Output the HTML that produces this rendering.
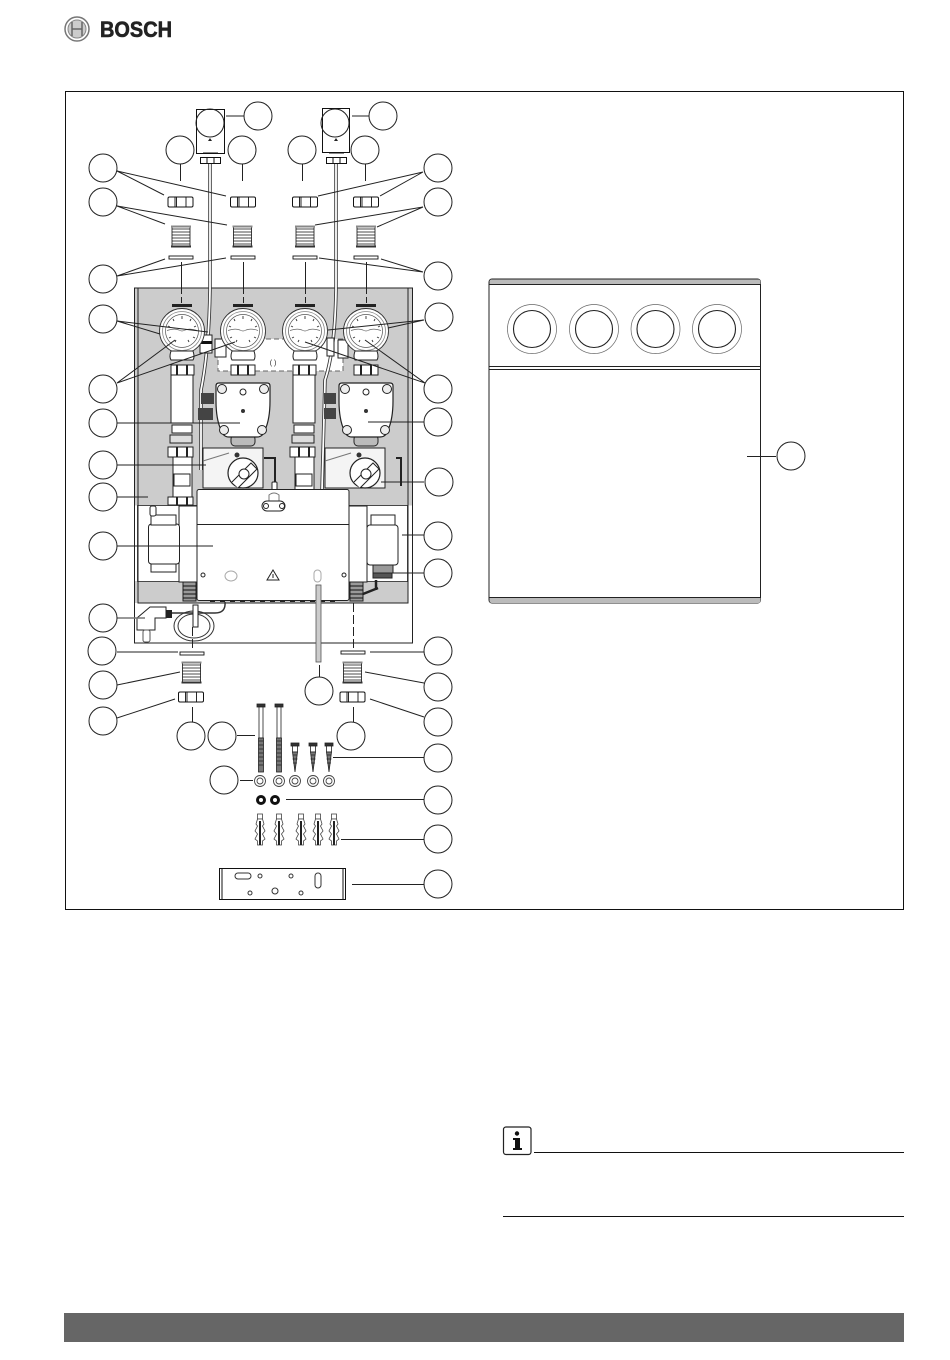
<!DOCTYPE html>
<html><head><meta charset="utf-8"><title>Bosch diagram</title>
<style>html,body{margin:0;padding:0;background:#fff}svg{display:block}</style></head>
<body>
<svg xmlns="http://www.w3.org/2000/svg" width="950" height="1360" viewBox="0 0 950 1360">
<defs>
<g id="nut"><rect x="0" y="0" width="25" height="10" rx="1.5" fill="#fff" stroke="#111" stroke-width="1"/><path d="M7 0V10M18 0V10M8.5 0V10" stroke="#111" stroke-width=".9" fill="none"/></g>
<g id="fit" fill="none" stroke="#111"><rect x="0" y="0" width="18" height="21" fill="#fff" stroke-width=".8"/><path d="M0 3H18M0 6H18M0 9H18M0 12H18M0 15H18M0 18H18" stroke-width=".8"/><rect x="-1" y="-.5" width="20" height="2" fill="#888" stroke="none"/><rect x="-1" y="19.5" width="20" height="2" fill="#333" stroke="none"/></g>
<g id="gauge"><rect x="-10" y="-27" width="20" height="3" fill="#222"/><circle r="22.500" fill="#fff" stroke="#333" stroke-width=".9"/><circle r="19.500" fill="#fff" stroke="#888" stroke-width=".8"/><circle r="16.500" fill="#fff" stroke="#555" stroke-width=".7"/><path d="M-15 -.5Q-8 -3 -3 -1Q0 1 3 -1Q8 -3 15 -.5" fill="none" stroke="#666" stroke-width=".7"/><path d="M0 -15V-12M-9 -12L-8 -10M9 -12L8 -10M-14 -5L-12 -4M14 -5L12 -4M-13 7L-11 6M13 7L11 6M-7 11L-6 9M7 11L6 9" stroke="#333" stroke-width=".9"/><path d="M-11 20Q-13 26 -11 29H11Q13 26 11 20Z" fill="#fff" stroke="#222"/></g>
<g id="tubecol" fill="#fff" stroke="#222" stroke-width="1"><rect x="-11" y="34" width="23" height="10"/><path d="M-5 34V44M5 34V44" stroke-width="2"/><rect x="-11" y="44" width="22" height="48"/><rect x="-10" y="94" width="20" height="8"/><rect x="-12" y="104" width="22" height="8" fill="#ddd"/><rect x="-14" y="116" width="25" height="10"/><path d="M-5 116V126M5 116V126" stroke-width="2"/><rect x="-9" y="126" width="19" height="40"/><rect x="-8" y="143" width="16" height="12"/><rect x="-14" y="166" width="25" height="8"/><path d="M-5 166V174M5 166V174" stroke-width="2"/></g>
<g id="pump"><rect x="-12" y="24" width="24" height="11" rx="4" fill="#bbb" stroke="#222"/><path d="M-24 -28H24Q27 -28 27 -25V-10Q27 8 22 19Q20 26 14 26H-14Q-20 26 -22 19Q-27 8 -27 -10V-25Q-27 -28 -24 -28Z" fill="#fff" stroke="#222" stroke-width="1.200"/><circle cx="-21" cy="-22" r="4.500" fill="#eee" stroke="#222"/><circle cx="21" cy="-22" r="4.500" fill="#eee" stroke="#222"/><circle cx="-19" cy="19" r="4.500" fill="#eee" stroke="#222"/><circle cx="19" cy="19" r="4.500" fill="#eee" stroke="#222"/><circle cy="-19" r="3" fill="#fff" stroke="#222"/><circle r="2" fill="#333"/></g>
<g id="valve"><path d="M-40 -25H20V15H-40Z" fill="#f4f4f4" stroke="#222" stroke-width="1"/><path d="M-40 -12L-14 -20" stroke="#777" fill="none"/><circle r="15" fill="#fff" stroke="#222" stroke-width="1.200"/><path d="M-11 9L8 -10L14 -4L-5 15" fill="#fff" stroke="#222"/><circle cx="1" cy="1" r="5" fill="#fff" stroke="#222"/><circle cx="-6" cy="-18" r="2.500" fill="#333"/></g>
<g id="bolt" stroke="#222" fill="#fff" stroke-width=".8"><rect x="-4" y="0" width="8" height="3" fill="#333"/><rect x="-2" y="3" width="4" height="31"/><rect x="-2.500" y="34" width="5" height="34" fill="#777"/><path d="M-2.500 37H2.500M-2.500 41H2.500M-2.500 45H2.500M-2.500 49H2.500M-2.500 53H2.500M-2.500 57H2.500M-2.500 61H2.500"/></g>
<g id="screw" stroke="#222" fill="#fff" stroke-width=".8"><rect x="-4" y="0" width="8" height="3" fill="#333"/><rect x="-2.500" y="3" width="5" height="6"/><path d="M-2.500 9H2.500L0 29Z" fill="#777"/><path d="M-2.500 12H2.500M-2.500 16H2.500M-2 20H2"/></g>
<g id="wash" fill="#fff" stroke="#444" stroke-width=".9"><circle r="5.500"/><circle r="3"/></g>
<g id="dowel" fill="#fff" stroke="#444" stroke-width=".8"><rect x="-2.500" y="0" width="5" height="5"/><path d="M-2.500 5L-4 10L-2.500 12L-5 17L-2.500 20L-5 25L-2.500 27V31H2.500V27L5 25L2.500 20L5 17L2.500 12L4 10L2.500 5Z"/><rect x="-1" y="7" width="2" height="24" fill="#222" stroke="none"/></g>
</defs>

<!-- Header -->
<circle cx="77" cy="29" r="12" fill="#fff" stroke="#777" stroke-width="1.500"/>
<circle cx="77" cy="29" r="9" fill="#ccc" stroke="#888" stroke-width="1"/>
<path d="M72 22V36M82 22V36M72 29H82" stroke="#666" stroke-width="1.500" fill="none"/>
<text x="100" y="37" font-family="'Liberation Sans',sans-serif" font-weight="bold" font-size="22" textLength="72" lengthAdjust="spacingAndGlyphs" fill="#222" stroke="#222" stroke-width=".6">BOSCH</text>

<!-- Frame -->
<rect x="65.500" y="91.500" width="838" height="818" fill="#fff" stroke="#111" stroke-width="1"/>

<!-- Panel -->
<rect x="134.500" y="288" width="278" height="355" fill="#fff" stroke="#222" stroke-width="1"/>
<rect x="135" y="288.500" width="277" height="217" fill="#ccc"/>
<rect x="135" y="581" width="273" height="22" fill="#ccc"/>
<rect x="137.500" y="505.500" width="270" height="76" fill="#fff" stroke="#222" stroke-width=".8"/>
<path d="M138 288V603H408V288M134.500 288H412.500V643H134.500Z" fill="none" stroke="#222" stroke-width="1"/>

<!-- Dashed box -->
<rect x="218" y="339" width="125" height="32" fill="#fff" stroke="#666" stroke-width="1" stroke-dasharray="5 3"/>
<text x="273" y="365" text-anchor="middle" font-family="'Liberation Sans',sans-serif" font-size="7" fill="#222">( )</text>

<!-- Sensor tubes -->
<path d="M210 163V290Q209 350 201 390V470" fill="none" stroke="#333" stroke-width="3.500"/>
<path d="M210 163V290Q209 350 201 390V470" fill="none" stroke="#fff" stroke-width="1.800"/>
<path d="M336 163V290Q335 350 325 380L322 490" fill="none" stroke="#333" stroke-width="3.500"/>
<path d="M336 163V290Q335 350 325 380L322 490" fill="none" stroke="#fff" stroke-width="1.800"/>

<!-- Tops -->
<rect x="196.500" y="109.500" width="28" height="44" fill="#fff" stroke="#111"/>
<rect x="322.500" y="108.500" width="27" height="44" fill="#fff" stroke="#111"/>
<path d="M208 141l2-3 2 3ZM334 141l2-3 2 3Z" fill="#222"/>
<g fill="#fff" stroke="#111"><rect x="200.500" y="157.500" width="20" height="6"/><rect x="326.500" y="157.500" width="20" height="6"/></g>
<path d="M207 157V163M214 157V163M333 157V163M340 157V163M203 153H218M329 153H344" stroke="#111" fill="none"/>

<!-- Nuts / fittings / washers rows -->
<use href="#nut" x="168" y="197"/><use href="#nut" x="230.500" y="197"/><use href="#nut" x="292.500" y="197"/><use href="#nut" x="353.500" y="197"/>
<use href="#fit" x="172" y="226"/><use href="#fit" x="233.500" y="226"/><use href="#fit" x="296" y="226"/><use href="#fit" x="357" y="226"/>
<g fill="#fff" stroke="#111" stroke-width=".9"><rect x="169" y="256" width="24" height="3"/><rect x="231" y="256" width="24" height="3"/><rect x="293" y="256" width="24" height="3"/><rect x="354" y="256" width="24" height="3"/></g>

<!-- Dash-dot axes -->
<g stroke="#222" stroke-width="1" fill="none">
<path d="M181.500 262V288M243.500 262V288M305.500 262V288M366.500 262V288"/>
<path d="M181.500 288V304M243.500 288V304M305.500 288V304M366.500 288V304" stroke-dasharray="6 3"/>
<path d="M180.500 164V181M242.500 164V181M302.500 164V181M365.500 164V181"/>
</g>

<!-- Column assemblies -->
<use href="#tubecol" x="182" y="331"/>
<use href="#tubecol" x="304" y="331"/>
<g fill="#fff" stroke="#222"><rect x="231" y="365" width="24" height="10"/><rect x="354" y="365" width="24" height="10"/></g>
<path d="M238 365V375M248 365V375M361 365V375M371 365V375" stroke="#222" stroke-width="2"/>
<use href="#pump" x="243" y="411"/>
<use href="#pump" x="366" y="411"/>
<use href="#valve" x="243" y="473"/>
<use href="#valve" x="365" y="473"/>
<path d="M264 458H275V486M396 458H401V486" fill="none" stroke="#222" stroke-width="2"/>
<rect x="272" y="482" width="5" height="8" rx="1" fill="#fff" stroke="#222"/>
<g fill="#444"><rect x="201" y="393" width="13" height="11"/><rect x="198" y="408" width="15" height="12"/><rect x="324" y="393" width="12" height="11"/><rect x="324" y="408" width="12" height="11"/></g>
<g fill="#fff" stroke="#222"><rect x="200" y="335" width="12" height="18"/><rect x="215" y="339" width="11" height="18"/><rect x="327" y="338" width="7" height="18"/><rect x="338" y="340" width="10" height="18"/></g>
<rect x="200" y="341" width="12" height="3" fill="#111"/>
<use href="#gauge" x="182" y="331"/><use href="#gauge" x="243" y="331"/><use href="#gauge" x="305" y="331"/><use href="#gauge" x="366" y="331"/>

<!-- Side cylinders -->
<g fill="#fff" stroke="#222" stroke-width="1">
<rect x="179" y="506" width="18" height="76"/><rect x="349" y="506" width="18" height="76"/>
<rect x="148.500" y="524" width="31" height="40" rx="3"/><rect x="151" y="515" width="25" height="10"/><rect x="151" y="564" width="25" height="8"/><rect x="150" y="506" width="6" height="10" rx="2"/>
<rect x="367" y="525" width="31" height="40" rx="3"/><rect x="371" y="515" width="24" height="10"/><rect x="373" y="565" width="20" height="8" fill="#999"/><rect x="373" y="573" width="19" height="5" fill="#555"/>
<rect x="183" y="582" width="13" height="19" fill="#999"/><rect x="350" y="582" width="13" height="19" fill="#999"/>
</g>
<path d="M183 586H196M183 590H196M183 594H196M183 598H196M350 586H363M350 590H363M350 594H363M350 598H363" stroke="#111"/>
<path d="M363 594L378 588M376 580V590" stroke="#222" stroke-width="2.500" fill="none"/>

<!-- Controller box -->
<rect x="197" y="489.500" width="152" height="111" rx="2" fill="#fff" stroke="#222" stroke-width="1"/>
<path d="M197 524.500H349" stroke="#222"/>
<path d="M269 507V495Q274 491 279 495V507" fill="none" stroke="#777"/>
<rect x="262" y="501" width="23" height="10" rx="5" fill="#fff" stroke="#222"/>
<circle cx="266" cy="506" r="2.500" fill="#fff" stroke="#222"/><circle cx="282" cy="506" r="2.500" fill="#fff" stroke="#222"/>
<circle cx="203" cy="575" r="2" fill="none" stroke="#222"/><circle cx="344" cy="575" r="2" fill="none" stroke="#222"/>
<ellipse cx="231" cy="576" rx="6" ry="5" fill="none" stroke="#aaa"/>
<path d="M273 570L279 580H267Z" fill="none" stroke="#222"/><path d="M273 574V578" stroke="#222"/>
<rect x="314" y="570" width="7" height="12" rx="3.500" fill="none" stroke="#aaa"/>
<path d="M210 601H340" stroke="#222" stroke-width="2" stroke-dasharray="5 5"/>

<!-- Thick tube -->
<rect x="316" y="585" width="5" height="77" fill="#ccc" stroke="#555" stroke-width=".8"/>

<!-- Plug and cable -->
<path d="M137 630V618L150 607H166V618H155V630Z" fill="#fff" stroke="#222"/>
<rect x="143" y="630" width="7" height="12" fill="none" stroke="#555" rx="2"/>
<path d="M166 610H172V618H166Z" fill="#222"/><path d="M172 613H195M195 613H215Q226 613 225 602" fill="none" stroke="#333" stroke-width="1.500"/>
<ellipse cx="194" cy="626" rx="20" ry="15" fill="none" stroke="#333"/><ellipse cx="194" cy="626" rx="16" ry="12" fill="none" stroke="#333"/>
<rect x="193" y="605" width="5" height="22" fill="#fff" stroke="#222"/>
<path d="M192.500 627V650M353.500 603V650" stroke="#222" stroke-dasharray="9 3"/>

<!-- Bottom parts -->
<g fill="#fff" stroke="#111" stroke-width=".9"><rect x="180" y="652" width="24" height="3"/><rect x="341" y="651" width="24" height="3"/></g>
<use href="#fit" x="182.500" y="662"/><use href="#fit" x="343.500" y="662"/>
<use href="#nut" x="178.500" y="692"/><use href="#nut" x="340" y="692"/>
<use href="#bolt" x="261" y="704"/><use href="#bolt" x="279" y="704"/>
<use href="#screw" x="295" y="743"/><use href="#screw" x="313" y="743"/><use href="#screw" x="329" y="743"/>
<use href="#wash" x="260" y="781"/><use href="#wash" x="279" y="781"/><use href="#wash" x="295" y="781"/><use href="#wash" x="313" y="781"/><use href="#wash" x="329" y="781"/>
<circle cx="261" cy="800" r="3.500" fill="#fff" stroke="#111" stroke-width="3"/><circle cx="275" cy="800" r="3.500" fill="#fff" stroke="#111" stroke-width="3"/>
<use href="#dowel" x="260" y="814"/><use href="#dowel" x="279" y="814"/><use href="#dowel" x="301" y="814"/><use href="#dowel" x="318" y="814"/><use href="#dowel" x="334" y="814"/>
<rect x="219.500" y="868.500" width="126" height="31" fill="#fff" stroke="#111"/>
<path d="M222 868V899M343 868V899" stroke="#111"/>
<g fill="#fff" stroke="#333"><rect x="235" y="873" width="16" height="6" rx="3"/><rect x="315" y="873" width="6" height="15" rx="3"/><circle cx="260" cy="876" r="2"/><circle cx="291" cy="876" r="2"/><circle cx="250" cy="893" r="2"/><circle cx="275" cy="891" r="3"/><circle cx="301" cy="893" r="2"/></g>

<!-- Leaders -->
<g stroke="#222" stroke-width="1" fill="none">
<path d="M226 116H244M352 116H369"/>
<path d="M117 171L164 195M117 171L226 196M423 172L318 196M423 172L380 196"/>
<path d="M117 206L165 224M117 206L227 225M423 207L315 225M423 207L377 227"/>
<path d="M117 276L165 259M117 276L226 258M423 272L319 258M423 272L381 259"/>
<path d="M117 321L160 334M117 321L208 332M424 320L328 330M424 320L388 328"/>
<path d="M117 383L175 340M117 383L235 342M425 383L305 342M425 383L365 340"/>
<path d="M117 423H240M424 422H368M117 465H206M424 482H381"/>
<path d="M117 497H148M402 535H424M117 546H213M385 573H424"/>
<path d="M117 618H145" stroke="#777" stroke-width="1.500"/>
<path d="M117 652H178M370 652H424M117 685L180 672M365 672L424 683M117 718L175 699M370 699L424 717"/>
<path d="M192.500 707V722M353.500 707V722M319.500 665V677"/>
<path d="M237 735.500H255M333 757.500H424M240 780.500H253M286 799.500H424M341 839.500H424M352 884.500H424"/>
</g>

<!-- Callout circles -->
<g fill="none" stroke="#222" stroke-width="1">
<circle cx="258" cy="116" r="14"/><circle cx="210" cy="123" r="14"/><circle cx="335" cy="123" r="14"/><circle cx="383" cy="116" r="14"/>
<circle cx="180" cy="150" r="14"/><circle cx="242" cy="150" r="14"/><circle cx="302" cy="150" r="14"/><circle cx="365" cy="150" r="14"/>
<circle cx="103" cy="168" r="14" fill="#fff"/><circle cx="438" cy="168" r="14" fill="#fff"/><circle cx="103" cy="202" r="14" fill="#fff"/><circle cx="438" cy="202" r="14" fill="#fff"/>
<circle cx="103" cy="279" r="14" fill="#fff"/><circle cx="438" cy="276" r="14" fill="#fff"/><circle cx="103" cy="319" r="14" fill="#fff"/><circle cx="439" cy="317" r="14" fill="#fff"/>
<circle cx="103" cy="389" r="14" fill="#fff"/><circle cx="438" cy="389" r="14" fill="#fff"/><circle cx="103" cy="423" r="14" fill="#fff"/><circle cx="438" cy="422" r="14" fill="#fff"/>
<circle cx="103" cy="465" r="14" fill="#fff"/><circle cx="103" cy="497" r="14" fill="#fff"/><circle cx="439" cy="482" r="14" fill="#fff"/><circle cx="438" cy="536" r="14" fill="#fff"/>
<circle cx="103" cy="546" r="14" fill="#fff"/><circle cx="438" cy="573" r="14" fill="#fff"/><circle cx="103" cy="618" r="14" fill="#fff"/><circle cx="102" cy="651" r="14" fill="#fff"/><circle cx="438" cy="651" r="14" fill="#fff"/>
<circle cx="103" cy="685" r="14" fill="#fff"/><circle cx="438" cy="687" r="14" fill="#fff"/><circle cx="103" cy="721" r="14" fill="#fff"/><circle cx="438" cy="722" r="14" fill="#fff"/>
<circle cx="191" cy="736" r="14" fill="#fff"/><circle cx="222" cy="736" r="14" fill="#fff"/><circle cx="351" cy="736" r="14" fill="#fff"/><circle cx="319" cy="691" r="14" fill="#fff"/>
<circle cx="438" cy="758" r="14" fill="#fff"/><circle cx="224" cy="780" r="14" fill="#fff"/><circle cx="438" cy="800" r="14" fill="#fff"/><circle cx="438" cy="839" r="14" fill="#fff"/><circle cx="438" cy="884" r="14" fill="#fff"/>
<circle cx="791" cy="456" r="14" fill="#fff"/>
</g>

<!-- Right cabinet -->
<rect x="489" y="279" width="271.500" height="324" rx="3" fill="#fff" stroke="#222" stroke-width="1"/>
<path d="M489.500 284V282Q489.500 279.500 492 279.500H758Q760.500 279.500 760.500 282V284Z" fill="#bbb"/>
<path d="M489.500 597V600Q489.500 603 492 603H758Q760.500 603 760.500 600V597Z" fill="#bbb"/>
<path d="M489 284.500H761M489 597.500H761M489 366.500H761M489 369.500H761" stroke="#222" fill="none"/>
<g fill="none">
<g stroke="#666" stroke-width=".7"><circle cx="532" cy="329" r="24.500"/><circle cx="594" cy="329" r="24.500"/><circle cx="655.500" cy="329" r="24.500"/><circle cx="717" cy="329" r="24.500"/></g>
<g stroke="#222" stroke-width="1.100"><circle cx="532" cy="329" r="18.500"/><circle cx="594" cy="329" r="18.500"/><circle cx="655.500" cy="329" r="18.500"/><circle cx="717" cy="329" r="18.500"/></g>
</g>
<path d="M747 456.500H776" stroke="#222"/>

<!-- Info note -->
<rect x="503.500" y="1127" width="27.500" height="27.500" rx="2.500" fill="#fff" stroke="#222" stroke-width="1.200"/>
<rect x="515" y="1138" width="5" height="11" fill="#111"/><rect x="513" y="1138" width="3" height="2" fill="#111"/><rect x="513" y="1148" width="9" height="2" fill="#111"/><circle cx="517" cy="1133.500" r="2.200" fill="#111"/>
<rect x="534" y="1152" width="370" height="1" fill="#111"/>
<rect x="503" y="1216" width="401" height="1" fill="#111"/>

<!-- Footer -->
<rect x="64" y="1313" width="840" height="29" fill="#666"/>
</svg>
</body></html>
